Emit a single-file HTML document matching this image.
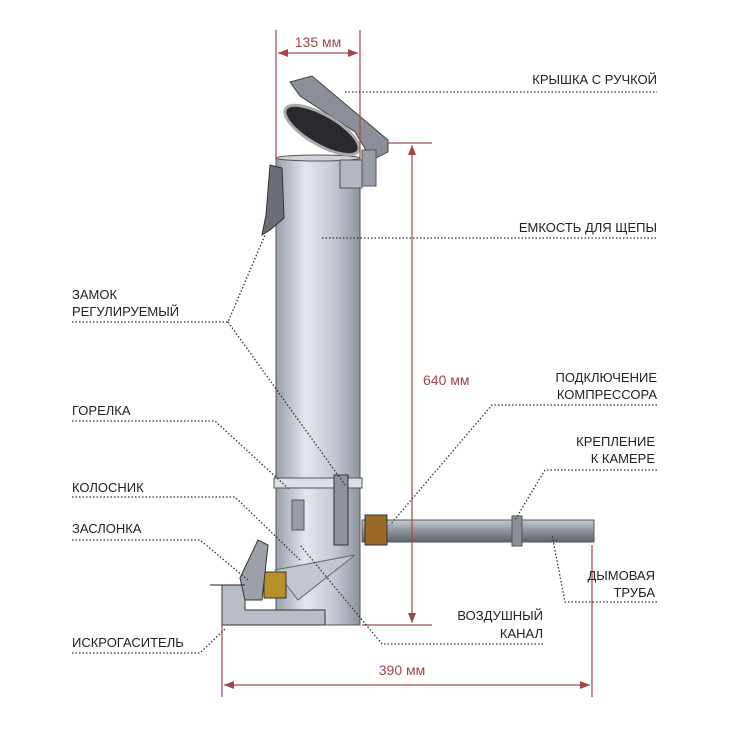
<!DOCTYPE html>
<html><head><meta charset="utf-8"><style>
body{margin:0;background:#fff}
svg{display:block}
text{font-family:"Liberation Sans",sans-serif;font-size:13px;fill:#222}
.r{fill:#a04646;font-size:14px}
.d{stroke:#333;stroke-width:1.3;stroke-dasharray:1.5 2;fill:none}
.m{stroke:#a04848;stroke-width:1.2;fill:none}
</style></head><body>
<svg width="735" height="735" viewBox="0 0 735 735">
<defs>
<linearGradient id="g" x1="0" x2="1">
<stop offset="0" stop-color="#9aa0ab"/><stop offset=".35" stop-color="#e4e7ee"/><stop offset=".7" stop-color="#c4c8d2"/><stop offset="1" stop-color="#8e939e"/>
</linearGradient>
<linearGradient id="p" x1="0" y1="0" x2="0" y2="1">
<stop offset="0" stop-color="#c8ccd4"/><stop offset=".5" stop-color="#8d929c"/><stop offset="1" stop-color="#5e636c"/>
</linearGradient>
</defs>
<rect x="276" y="158" width="84" height="467" fill="url(#g)" stroke="#555" stroke-width="1"/>
<ellipse cx="318" cy="158" rx="42" ry="3" fill="#d0d3da" stroke="#555"/>
<rect x="274" y="478" width="88" height="10" fill="#dde0e6" stroke="#555"/>
<!-- lid -->
<path d="M290 82 L312 76 L388 140 L388 152 L372 160 L355 132 L300 96 Z" fill="#8a8f99" stroke="#444"/>
<ellipse cx="322" cy="130" rx="42" ry="15" transform="rotate(30 322 130)" fill="#2a2a2e" stroke="#aaa" stroke-width="3"/>
<rect x="340" y="160" width="22" height="28" fill="#b4b8c0" stroke="#555"/>
<rect x="362" y="150" width="14" height="36" fill="#9a9ea8" stroke="#555"/>
<path d="M270 165 L282 168 L284 218 L270 230 L262 235 L266 215 Z" fill="#6a6f78" stroke="#333"/>
<rect x="334" y="475" width="14" height="70" fill="#8e939c" stroke="#333"/>
<rect x="292" y="500" width="12" height="30" fill="#999ea8" stroke="#555"/>
<rect x="362" y="520" width="232" height="22" fill="url(#p)" stroke="#555"/>
<rect x="512" y="516" width="10" height="30" fill="#8a8f99" stroke="#555"/>
<rect x="365" y="515" width="22" height="30" fill="#9b6a28" stroke="#333"/>
<path d="M275 570 L355 555 L298 600 Z" fill="#c3c7cf" stroke="#666"/>
<rect x="264" y="572" width="22" height="26" fill="#b8902a" stroke="#333"/>
<path d="M222 585 L245 585 L245 610 L325 610 L325 625 L222 625 Z" fill="#b9bdc5" stroke="#333"/>
<path d="M240 578 L258 540 L268 545 L262 600 L245 600 Z" fill="#9ca0a9" stroke="#333"/>
<line x1="210" y1="585" x2="245" y2="585" stroke="#222"/>
<g class="m">
<line x1="276" y1="30" x2="276" y2="160"/><line x1="360" y1="30" x2="360" y2="160"/>
<line x1="278" y1="53" x2="358" y2="53"/>
<line x1="412" y1="145" x2="412" y2="623"/>
<line x1="388" y1="143" x2="432" y2="143"/><line x1="362" y1="625" x2="432" y2="625"/>
<line x1="222" y1="625" x2="222" y2="697"/><line x1="592" y1="545" x2="592" y2="697"/>
<line x1="224" y1="685" x2="590" y2="685"/>
</g>
<g fill="#a04848">
<path d="M278 53 L288 49 L288 57Z"/><path d="M358 53 L348 49 L348 57Z"/>
<path d="M412 145 L408 155 L416 155Z"/><path d="M412 623 L408 613 L416 613Z"/>
<path d="M224 685 L234 681 L234 689Z"/><path d="M590 685 L580 681 L580 689Z"/>
</g>
<text class="r" x="318" y="47" text-anchor="middle">135 мм</text>
<text class="r" x="423" y="385">640 мм</text>
<text class="r" x="402" y="675" text-anchor="middle">390 мм</text>
<g class="d">
<polyline points="345,92 657,92"/>
<polyline points="322,238 657,238"/>
<polyline points="657,405 492,405 390,525"/>
<polyline points="657,470 545,470 515,520"/>
<polyline points="657,602 565,602 552,535"/>
<polyline points="543,644 382,644 300,545"/>
<polyline points="72,322 228,322 265,235"/>
<polyline points="228,322 345,485"/>
<polyline points="72,421 215,421 290,490"/>
<polyline points="72,497 235,497 300,560"/>
<polyline points="72,540 200,540 248,580"/>
<polyline points="72,653 200,653 226,628"/>
</g>
<g text-anchor="end">
<text x="657" y="84">КРЫШКА С РУЧКОЙ</text>
<text x="657" y="232">ЕМКОСТЬ ДЛЯ ЩЕПЫ</text>
<text x="657" y="382">ПОДКЛЮЧЕНИЕ</text>
<text x="657" y="399">КОМПРЕССОРА</text>
<text x="655" y="446">КРЕПЛЕНИЕ</text>
<text x="655" y="463">К КАМЕРЕ</text>
<text x="655" y="580">ДЫМОВАЯ</text>
<text x="655" y="597">ТРУБА</text>
<text x="543" y="620">ВОЗДУШНЫЙ</text>
<text x="543" y="638">КАНАЛ</text>
</g>
<text x="72" y="299">ЗАМОК</text>
<text x="72" y="316">РЕГУЛИРУЕМЫЙ</text>
<text x="72" y="415">ГОРЕЛКА</text>
<text x="72" y="492">КОЛОСНИК</text>
<text x="72" y="533">ЗАСЛОНКА</text>
<text x="72" y="647">ИСКРОГАСИТЕЛЬ</text>
</svg>
</body></html>
